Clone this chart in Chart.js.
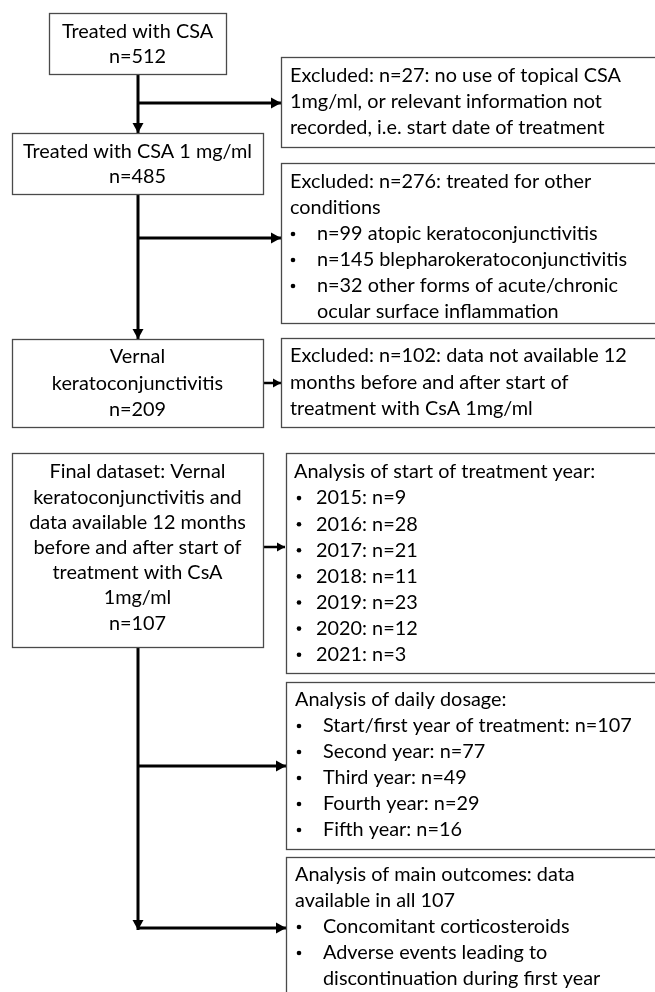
<!DOCTYPE html>
<html>
<head>
<meta charset="utf-8">
<script src="https://cdn.jsdelivr.net/npm/chart.js@4"></script>
<style>
  html, body { margin: 0; padding: 0; background: #ffffff; }
  #wrap { width: 655px; height: 992px; }
</style>
</head>
<body>
<div id="wrap"><canvas id="c" width="655" height="992"></canvas></div>
<script>
const totalTreated = 512;
const treatedCsa1mg = 485;
const vernalN = 209;
const finalN = 107;
const excludedN = [27, 276, 102];
const otherConditionLabels = ['atopic keratoconjunctivitis', 'blepharokeratoconjunctivitis', 'other forms of acute/chronic'];
const otherConditionN = [99, 145, 32];
const startYears = ['2015', '2016', '2017', '2018', '2019', '2020', '2021'];
const startYearN = [9, 28, 21, 11, 23, 12, 3];
const dosageYears = ['Start/first year of treatment', 'Second year', 'Third year', 'Fourth year', 'Fifth year'];
const dosageN = [107, 77, 49, 29, 16];
const outcomeLabels = ['Concomitant corticosteroids', 'Adverse events leading to'];

// ---------- TEXT CONTENT built from data ----------
const T = (s) => ({ t: s });
const B = (s) => ({ t: s, bullet: true });
const C = (s) => ({ t: s, cont: true });

const texts = {
  b1: [T('Treated with CSA'), T('n=' + totalTreated)],
  b2: [T('Treated with CSA 1 mg/ml'), T('n=' + treatedCsa1mg)],
  e1: [T('Excluded: n=' + excludedN[0] + ': no use of topical CSA'), T('1mg/ml, or relevant information not'), T('recorded, i.e. start date of treatment')],
  e2: [T('Excluded: n=' + excludedN[1] + ': treated for other'), T('conditions'),
       B('n=' + otherConditionN[0] + ' ' + otherConditionLabels[0]),
       B('n=' + otherConditionN[1] + ' ' + otherConditionLabels[1]),
       B('n=' + otherConditionN[2] + ' ' + otherConditionLabels[2]),
       C('ocular surface inflammation')],
  b3: [T('Vernal'), T('keratoconjunctivitis'), T('n=' + vernalN)],
  e3: [T('Excluded: n=' + excludedN[2] + ': data not available 12'), T('months before and after start of'), T('treatment with CsA 1mg/ml')],
  b4: [T('Final dataset: Vernal'), T('keratoconjunctivitis and'), T('data available 12 months'), T('before and after start of'), T('treatment with CsA'), T('1mg/ml'), T('n=' + finalN)],
  y: [T('Analysis of start of treatment year:')].concat(startYears.map((yr, i) => B(yr + ': n=' + startYearN[i]))),
  d: [T('Analysis of daily dosage:')].concat(dosageYears.map((lb, i) => B(lb + ': n=' + dosageN[i]))),
  o: [T('Analysis of main outcomes: data'), T('available in all ' + finalN), B(outcomeLabels[0]), B(outcomeLabels[1]), C('discontinuation during first year')]
};

// ---------- LAYOUT (positions/sizes, in scale units) ----------
const boxes = [
  { id: 'b1', x0: 49, y0: 13, x1: 226, y1: 74, align: 'center', first: 32, step: 25 },
  { id: 'b2', x0: 12, y0: 133, x1: 263, y1: 194, align: 'center', first: 152, step: 25 },
  { id: 'e1', x0: 281, y0: 57, x1: 662, y1: 147, align: 'left', pad: 9, first: 76, step: 26 },
  { id: 'e2', x0: 281, y0: 163, x1: 662, y1: 323, align: 'left', pad: 9, bx: 12, tx: 36, first: 182, step: 26 },
  { id: 'b3', x0: 12, y0: 339, x1: 263, y1: 427, align: 'center', first: 357, step: 26.5 },
  { id: 'e3', x0: 281, y0: 338, x1: 662, y1: 427, align: 'left', pad: 9, first: 356, step: 26.5 },
  { id: 'b4', x0: 12, y0: 453, x1: 263, y1: 647, align: 'center', first: 472, step: 25.2 },
  { id: 'y', x0: 286, y0: 453, x1: 662, y1: 673, align: 'left', pad: 8, bx: 13, tx: 30, first: 472, step: 26.1 },
  { id: 'd', x0: 286, y0: 682, x1: 662, y1: 849, align: 'left', pad: 9, bx: 13, tx: 37, first: 700, step: 26 },
  { id: 'o', x0: 286, y0: 857, x1: 662, y1: 1010, align: 'left', pad: 9, bx: 13, tx: 37, first: 875, step: 26 }
];

// connector polylines; last point is the arrow tip
const connectors = [
  { pts: [[138, 74], [138, 133]], w: 3 },
  { pts: [[138, 103], [281, 103]], w: 3 },
  { pts: [[138, 194], [138, 339]], w: 3 },
  { pts: [[138, 238], [281, 238]], w: 3 },
  { pts: [[263, 383], [281, 383]], w: 2.5 },
  { pts: [[263, 547], [285, 547]], w: 2.5 },
  { pts: [[138, 647], [138, 930]], w: 3 },
  { pts: [[138, 766], [286, 766]], w: 3 },
  { pts: [[138, 928], [286, 928]], w: 3 }
];

// ---------- FONT calibration (Calibri-like width) ----------
const FONT_FAMILY = 'Lato, "Open Sans", sans-serif';
const mctx = document.createElement('canvas').getContext('2d');
mctx.font = '20px ' + FONT_FAMILY;
const refW = mctx.measureText('Excluded: n=27: no use of topical CSA').width;
const fontSize = Math.min(21, 20 * 331 / refW);
const FONT = fontSize.toFixed(2) + 'px ' + FONT_FAMILY;

const flowPlugin = {
  id: 'flow',
  afterDatasetsDraw(chart) {
    const ctx = chart.ctx;
    const xs = chart.scales.x, ys = chart.scales.y;
    const px = (v) => xs.getPixelForValue(v);
    const py = (v) => ys.getPixelForValue(v);
    ctx.save();
    // arrow heads
    ctx.fillStyle = '#000';
    connectors.forEach(c => {
      const n = c.pts.length;
      const [ax, ay] = c.pts[n - 2], [bx, by] = c.pts[n - 1];
      const X1 = px(ax), Y1 = py(ay), X2 = px(bx), Y2 = py(by);
      const ang = Math.atan2(Y2 - Y1, X2 - X1);
      const L = c.w >= 3 ? 10 : 8, H = c.w >= 3 ? 5.5 : 4.5;
      ctx.beginPath();
      ctx.moveTo(X2, Y2);
      ctx.lineTo(X2 - L * Math.cos(ang) + H * Math.sin(ang), Y2 - L * Math.sin(ang) - H * Math.cos(ang));
      ctx.lineTo(X2 - L * Math.cos(ang) - H * Math.sin(ang), Y2 - L * Math.sin(ang) + H * Math.cos(ang));
      ctx.closePath();
      ctx.fill();
    });
    // boxes
    boxes.forEach(b => {
      const X0 = px(b.x0), Y0 = py(b.y0), X1 = px(b.x1), Y1 = py(b.y1);
      ctx.fillStyle = '#ffffff';
      ctx.fillRect(X0, Y0, X1 - X0, Y1 - Y0);
      ctx.strokeStyle = '#4a4a4a';
      ctx.lineWidth = 1.3;
      ctx.strokeRect(Math.round(X0) + 0.5, Math.round(Y0) + 0.5, Math.round(X1 - X0), Math.round(Y1 - Y0));
      ctx.fillStyle = '#000';
      ctx.font = FONT;
      ctx.textBaseline = 'middle';
      const lines = texts[b.id];
      lines.forEach((ln, i) => {
        const yy = py(b.first + i * b.step);
        if (b.align === 'center') {
          ctx.textAlign = 'center';
          ctx.fillText(ln.t, (X0 + X1) / 2, yy);
        } else {
          ctx.textAlign = 'left';
          if (ln.bullet) {
            ctx.beginPath();
            ctx.arc(px(b.x0 + b.bx), yy, 2.3, 0, Math.PI * 2);
            ctx.fill();
            ctx.fillText(ln.t, px(b.x0 + b.tx), yy);
          } else if (ln.cont) {
            ctx.fillText(ln.t, px(b.x0 + b.tx), yy);
          } else {
            ctx.fillText(ln.t, px(b.x0 + b.pad), yy);
          }
        }
      });
    });
    ctx.restore();
  }
};

const datasets = connectors.map(c => ({
  data: c.pts.map(p => ({ x: p[0], y: p[1] })),
  showLine: true,
  borderColor: '#000000',
  borderWidth: c.w,
  pointRadius: 0,
  borderCapStyle: 'butt',
  fill: false
}));

new Chart(document.getElementById('c'), {
  type: 'scatter',
  data: { datasets },
  options: {
    responsive: false,
    animation: false,
    events: [],
    layout: { padding: 0 },
    plugins: { legend: { display: false }, tooltip: { enabled: false }, title: { display: false } },
    scales: {
      x: { type: 'linear', min: 0, max: 655, display: false },
      y: { type: 'linear', min: 0, max: 992, reverse: true, display: false }
    }
  },
  plugins: [flowPlugin]
});
</script>
</body>
</html>
